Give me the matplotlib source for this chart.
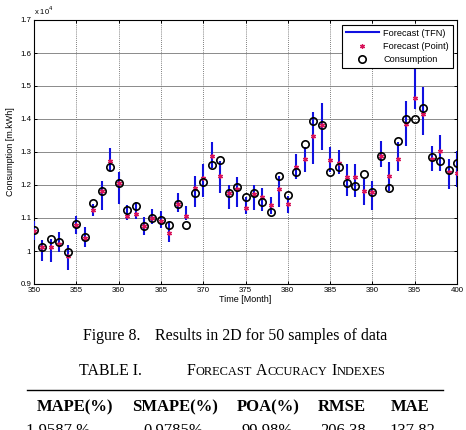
import matplotlib
matplotlib.use('Agg')
import matplotlib.pyplot as plt
from matplotlib.ticker import FuncFormatter, MultipleLocator
from matplotlib.transforms import IdentityTransform
from matplotlib.lines import Line2D

# data, consumption in units of 10^4 m.kWh
months = list(range(350, 401))
consumption = [1.063, 1.011, 1.036, 1.027, 0.997, 1.081, 1.043, 1.146, 1.183, 1.256,
               1.206, 1.123, 1.135, 1.076, 1.101, 1.093, 1.078, 1.143, 1.078, 1.177,
               1.209, 1.262, 1.277, 1.175, 1.195, 1.163, 1.176, 1.149, 1.119, 1.226,
               1.171, 1.240, 1.325, 1.394, 1.382, 1.238, 1.255, 1.205, 1.198, 1.233,
               1.180, 1.289, 1.191, 1.332, 1.399, 1.399, 1.432, 1.286, 1.273, 1.245,
               1.267]
forecast_point = [1.060, 1.012, 1.013, 1.022, 0.985, 1.078, 1.040, 1.124, 1.183, 1.273,
                  1.206, 1.105, 1.111, 1.076, 1.100, 1.092, 1.055, 1.142, 1.105, 1.190,
                  1.222, 1.287, 1.227, 1.175, 1.188, 1.131, 1.172, 1.163, 1.138, 1.188,
                  1.143, 1.255, 1.279, 1.347, 1.382, 1.275, 1.268, 1.225, 1.225, 1.183,
                  1.180, 1.289, 1.228, 1.280, 1.386, 1.464, 1.416, 1.280, 1.304, 1.240,
                  1.235]
tfn_low = [1.033, 0.971, 0.967, 0.997, 0.943, 1.053, 1.012, 1.105, 1.125, 1.243,
           1.143, 1.095, 1.098, 1.048, 1.083, 1.069, 1.027, 1.118, 1.093, 1.133,
           1.163, 1.253, 1.175, 1.126, 1.133, 1.111, 1.125, 1.121, 1.111, 1.133,
           1.115, 1.218, 1.238, 1.263, 1.306, 1.238, 1.233, 1.168, 1.163, 1.138,
           1.123, 1.255, 1.183, 1.243, 1.319, 1.429, 1.352, 1.243, 1.243, 1.188,
           1.193]
tfn_high = [1.090, 1.032, 1.035, 1.058, 1.019, 1.107, 1.074, 1.143, 1.212, 1.312,
            1.240, 1.138, 1.149, 1.103, 1.128, 1.120, 1.088, 1.175, 1.135, 1.228,
            1.263, 1.331, 1.273, 1.200, 1.223, 1.163, 1.201, 1.191, 1.164, 1.227,
            1.168, 1.294, 1.314, 1.420, 1.449, 1.316, 1.306, 1.263, 1.265, 1.218,
            1.213, 1.334, 1.270, 1.329, 1.454, 1.580, 1.496, 1.319, 1.351, 1.279,
            1.304]

table_cols = ['MAPE(%)', 'SMAPE(%)', 'POA(%)', 'RMSE', 'MAE']
table_vals = ['1.9587 %', '0.9785%', '99.98%', '206.38', '137.82']

plt.rcParams['font.family'] = 'Liberation Sans'

fig = plt.figure(figsize=(4.66, 4.30), dpi=100)
ax = fig.add_axes([34/466, 1-284/430, 423/466, 264/430])

blue = '#1010e0'
red = '#d8145a'
ax.vlines(months, tfn_low, tfn_high, color=blue, lw=1.5, zorder=3)
ax.plot(months, forecast_point, ls='none', marker=(6, 2, 0), ms=3.5, mew=0.9,
        color=red, zorder=4)
ax.plot(months, consumption, ls='none', marker='o', ms=5.3, mfc='none', mec='black',
        mew=1.2, zorder=5)

ax.set_xlim(350, 400)
ax.set_ylim(0.9, 1.7)
ax.xaxis.set_major_locator(MultipleLocator(5))
ax.yaxis.set_major_locator(MultipleLocator(0.1))
ax.yaxis.set_major_formatter(FuncFormatter(lambda v, p: '%g' % round(v, 2)))
ax.tick_params(direction='in', length=2.5, width=0.7, labelsize=5.7, pad=2,
               top=True, right=True)
ax.grid(axis='x', color='#555555', ls=(0, (1, 1.5)), lw=0.6)
ax.grid(axis='y', color='#777777', ls='-', lw=0.6)
for s in ax.spines.values():
    s.set_linewidth(0.8)

ax.set_xlabel('Time [Month]', fontsize=6.5, labelpad=1)
ax.set_ylabel('Consumption [m.kWh]', fontsize=6.5, labelpad=4)
ax.text(0, 1.012, r'x 10$^4$', transform=ax.transAxes, fontsize=5.5, ha='left', va='bottom')

handles = [Line2D([], [], color=blue, lw=1.5),
           Line2D([], [], ls='none', marker=(6, 2, 0), ms=3.5, mew=0.9, color=red),
           Line2D([], [], ls='none', marker='o', ms=5.3, mfc='none', mec='black', mew=1.2)]
leg = ax.legend(handles, ['Forecast (TFN)', 'Forecast (Point)', 'Consumption'],
                loc='upper right', bbox_to_anchor=(0.99, 0.981), borderaxespad=0,
                fontsize=6.6, handlelength=3.6, labelspacing=0.45, fancybox=False,
                framealpha=1, edgecolor='black', borderpad=0.4, handletextpad=0.5)
leg.get_frame().set_linewidth(0.8)
leg.set_zorder(10)

# caption and table below the chart, positioned in pixels
px = IdentityTransform()
serif = 'Liberation Serif'
fig.text(83, 90, 'Figure 8.', transform=px, family=serif, fontsize=11.4, va='baseline')
fig.text(155, 90, 'Results in 2D for 50 samples of data', transform=px, family=serif,
         fontsize=11.4, va='baseline')

fig.text(79, 55, 'TABLE I.', transform=px, family=serif, fontsize=11.4, va='baseline')
renderer = fig.canvas.get_renderer()
x = 187
for word in ['FORECAST', 'ACCURACY', 'INDEXES']:
    t1 = fig.text(x, 55, word[0], transform=px, family=serif, fontsize=11.4, va='baseline')
    x += t1.get_window_extent(renderer).width
    t2 = fig.text(x, 55, word[1:], transform=px, family=serif, fontsize=8.9, va='baseline')
    x += t2.get_window_extent(renderer).width + 4

fig.add_artist(Line2D([27, 443], [40, 40], transform=px, color='black', lw=1.0))

col_x = [75, 175, 268, 342, 410]
val_x = [58, 173, 267, 343, 412]
for cx, c in zip(col_x, table_cols):
    fig.text(cx, 19, c, transform=px, family=serif, fontsize=12, weight='bold',
             ha='center', va='baseline')
for vx, v in zip(val_x, table_vals):
    fig.text(vx, -5, v, transform=px, family=serif, fontsize=12, ha='center', va='baseline')

fig.savefig('out.png', dpi=100)
